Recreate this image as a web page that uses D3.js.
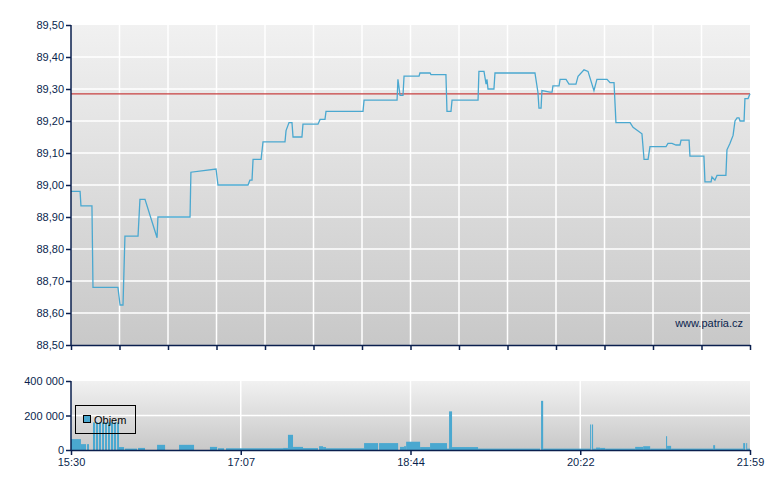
<!DOCTYPE html>
<html>
<head>
<meta charset="utf-8">
<script src="https://cdn.jsdelivr.net/npm/d3@7"></script>
<style>
  body { margin: 0; background: #fff; }
  text { font-family: Arial, "Liberation Sans", sans-serif; }
</style>
</head>
<body>
<div id="chart"></div>
<script>
// minutes after 15:30
var priceTimes = [0, 5.2, 5.7, 12.0, 12.6, 26.9, 28.1, 29.8, 30.9, 38.4, 39.5, 42.4, 49.3, 49.8, 68.2, 68.7, 83.1, 84.2,
  101.4, 102.5, 103.7, 104.3, 108.9, 110.0, 122.6, 123.2, 124.9, 126.6, 127.2, 132.3, 132.9, 141.5, 142.7, 145.5, 146.1,
  167.3, 167.9, 186.8, 187.3, 188.5, 190.2, 190.8, 199.4, 199.9, 205.7, 206.2, 214.8, 215.4, 217.7, 218.3, 233.2, 233.7,
  236.6, 237.8, 238.3, 238.9, 242.3, 242.9, 265.8, 267.5, 268.1, 269.3, 269.8, 274.4, 275.6, 276.1, 279.6, 280.2, 283.6,
  285.3, 289.3, 290.5, 293.9, 296.2, 299.6, 301.3, 307.1, 308.8, 311.1, 312.2, 320.3, 322.0, 327.1, 328.3, 330.6, 331.7,
  340.9, 342.0, 344.3, 346.6, 348.9, 349.5, 354.1, 354.6, 362.6, 363.2, 366.7, 367.2, 368.9, 370.1, 375.2, 375.8, 377.5,
  379.3, 380.4, 381.6, 382.7, 383.3, 385.6, 386.1, 387.9, 389];
var prices = [88.98, 88.98, 88.935, 88.935, 88.68, 88.68, 88.625, 88.625, 88.84, 88.84, 88.955, 88.955, 88.835, 88.90, 88.90, 89.04, 89.05, 89.00,
  89.00, 89.015, 89.015, 89.08, 89.08, 89.135, 89.135, 89.17, 89.195, 89.195, 89.15, 89.15, 89.19, 89.19, 89.205, 89.205, 89.23,
  89.23, 89.265, 89.265, 89.33, 89.28, 89.28, 89.34, 89.34, 89.35, 89.35, 89.345, 89.345, 89.23, 89.23, 89.265, 89.265, 89.355,
  89.355, 89.315, 89.33, 89.30, 89.30, 89.35, 89.35, 89.29, 89.24, 89.24, 89.295, 89.29, 89.29, 89.31, 89.31, 89.33, 89.33,
  89.315, 89.315, 89.34, 89.36, 89.355, 89.295, 89.33, 89.33, 89.32, 89.32, 89.195, 89.195, 89.18, 89.16, 89.08, 89.08, 89.12,
  89.12, 89.13, 89.13, 89.125, 89.125, 89.14, 89.14, 89.09, 89.09, 89.01, 89.01, 89.025, 89.015, 89.03, 89.03, 89.11,
  89.13, 89.155, 89.20, 89.21, 89.21, 89.20, 89.20, 89.27, 89.27, 89.285];
var prevClose = 89.285;

var volStart = [0, 5.7, 9.2, 12.6, 14.3, 16.0, 17.8, 19.5, 21.2, 22.9, 24.6, 26.4, 27.5, 30.9, 38.4, 49.3, 61.9, 79.6, 84.2, 88.8,
  121.5, 124.3, 127.2, 132.9, 142.1, 144.4, 146.1, 167.9, 176.5, 188.5, 190.8, 192.0, 200.0, 205.7, 215.4, 216.6, 218.3, 233.2,
  269.3, 270.5, 297.4, 298.5, 299.1, 300.8, 303.1, 306.0, 323.2, 327.8, 331.8, 340.9, 341.5, 343.8, 367.9, 369.0, 385.1, 386.8, 387.3];
var volEnd = [5.7, 8.6, 10.3, 13.8, 15.5, 17.2, 18.9, 20.6, 22.3, 24.1, 25.8, 27.5, 30.4, 37.8, 42.4, 53.9, 70.5, 83.7, 87.7, 121.5,
  124.3, 127.2, 132.9, 141.5, 144.4, 146.1, 167.9, 175.9, 187.4, 190.8, 192.0, 200.0, 205.7, 215.4, 216.6, 218.3, 233.2, 268.7,
  270.5, 297.4, 298.0, 299.1, 300.8, 303.1, 306.0, 323.2, 327.8, 331.8, 340.9, 341.5, 343.8, 367.9, 369.0, 385.1, 386.2, 387.3, 389];
var volumes = [63000, 34000, 34000, 160000, 160000, 160000, 160000, 160000, 160000, 160000, 160000, 160000, 17000, 8000, 12000, 30000, 30000, 18000, 10000, 10000,
  12000, 88000, 18000, 11000, 22000, 17000, 10000, 40000, 40000, 18000, 22000, 48000, 17000, 40000, 8000, 224000, 17000, 8000,
  285000, 8000, 148000, 148000, 8000, 14000, 12000, 8000, 18000, 22000, 8000, 80000, 24000, 8000, 28000, 8000, 40000, 40000, 8000];

var priceTicks = [88.5, 88.6, 88.7, 88.8, 88.9, 89.0, 89.1, 89.2, 89.3, 89.4, 89.5];
var volTicks = [0, 200000, 400000];
var timeLabels = ["15:30", "17:07", "18:44", "20:22", "21:59"];

var W = 780, H = 490, left = 71, right = 750;
var navy = "#0a1f4e", lineCol = "#4aa8d0";
var fmtComma = function (d) { return d3.format(".2f")(d).replace(".", ","); };
var fmtSpace = function (d) { return d3.format(",")(d).replace(/,/g, " "); };

var svg = d3.select("#chart").append("svg").attr("width", W).attr("height", H);
var defs = svg.append("defs");
var grad = defs.append("linearGradient").attr("id", "bg").attr("x1", 0).attr("y1", 0).attr("x2", 0).attr("y2", 1);
grad.append("stop").attr("offset", "0%").attr("stop-color", "#f1f1f1");
grad.append("stop").attr("offset", "100%").attr("stop-color", "#c8c8c8");

var x = d3.scaleLinear().domain([0, 389]).range([left, right]);
var y = d3.scaleLinear().domain([88.5, 89.5]).range([345, 25]);
var yv = d3.scaleLinear().domain([0, 400000]).range([450, 381]);

// main panel
svg.append("rect").attr("x", left).attr("y", 25).attr("width", right - left).attr("height", 320).attr("fill", "url(#bg)");
var mainXTicks = d3.range(15).map(function (i) { return i * 389 / 14; });
svg.append("g").selectAll("line").data(mainXTicks.slice(1, -1)).join("line")
  .attr("x1", function (d) { return x(d); }).attr("x2", function (d) { return x(d); })
  .attr("y1", 25).attr("y2", 345).attr("stroke", "#fff").attr("stroke-width", 1.5);
svg.append("g").selectAll("line").data(priceTicks.slice(1, -1)).join("line")
  .attr("x1", left).attr("x2", right).attr("y1", function (d) { return y(d); }).attr("y2", function (d) { return y(d); })
  .attr("stroke", "#fff").attr("stroke-width", 1.5);

svg.append("line").attr("x1", left).attr("x2", right).attr("y1", y(prevClose)).attr("y2", y(prevClose))
  .attr("stroke", "#c84040").attr("stroke-width", 1.2);

svg.append("path").datum(d3.zip(priceTimes, prices))
  .attr("d", d3.line().x(function (d) { return x(d[0]); }).y(function (d) { return y(d[1]); }))
  .attr("fill", "none").attr("stroke", lineCol).attr("stroke-width", 1.3);

svg.append("text").attr("x", 743).attr("y", 327).attr("text-anchor", "end").attr("font-size", 11)
  .attr("fill", navy).text("www.patria.cz");

var ya = svg.append("g").attr("transform", "translate(" + left + ",0)")
  .call(d3.axisLeft(y).tickValues(priceTicks).tickFormat(fmtComma).tickSize(5).tickPadding(2));
var xa = svg.append("g").attr("transform", "translate(0,345)")
  .call(d3.axisBottom(x).tickValues(mainXTicks).tickFormat("").tickSize(5).tickSizeOuter(0));

// volume panel
svg.append("rect").attr("x", left).attr("y", 381).attr("width", right - left).attr("height", 69).attr("fill", "url(#bg)");
var volXTicks = d3.range(5).map(function (i) { return i * 389 / 4; });
svg.append("g").selectAll("line").data(volXTicks.slice(1, -1)).join("line")
  .attr("x1", function (d) { return x(d); }).attr("x2", function (d) { return x(d); })
  .attr("y1", 381).attr("y2", 450).attr("stroke", "#fff").attr("stroke-width", 1.5);
svg.append("line").attr("x1", left).attr("x2", right).attr("y1", yv(200000)).attr("y2", yv(200000))
  .attr("stroke", "#fff").attr("stroke-width", 1.5);

svg.append("g").selectAll("rect").data(d3.range(volumes.length)).join("rect")
  .attr("x", function (i) { return x(volStart[i]); })
  .attr("width", function (i) { return Math.max(1, x(volEnd[i]) - x(volStart[i])); })
  .attr("y", function (i) { return yv(volumes[i]); })
  .attr("height", function (i) { return yv(0) - yv(volumes[i]); })
  .attr("fill", lineCol);

var va = svg.append("g").attr("transform", "translate(" + left + ",0)")
  .call(d3.axisLeft(yv).tickValues(volTicks).tickFormat(fmtSpace).tickSize(5).tickPadding(2));
var xa2 = svg.append("g").attr("transform", "translate(0,450)")
  .call(d3.axisBottom(x).tickValues(volXTicks).tickFormat(function (d, i) { return timeLabels[i]; }).tickSize(5).tickSizeOuter(0));

[ya, xa, va, xa2].forEach(function (g) {
  g.selectAll(".domain").attr("stroke", navy).attr("stroke-width", 1.5);
  g.selectAll(".tick line").attr("stroke", navy).attr("stroke-width", 1.5);
  g.selectAll("text").attr("fill", navy).attr("font-size", 11).attr("font-family", "Arial, 'Liberation Sans', sans-serif");
});
ya.select(".domain").attr("d", "M0,25V345");
va.select(".domain").attr("d", "M0,381V450");

// legend
var lg = svg.append("g");
lg.append("rect").attr("x", 75.5).attr("y", 405.5).attr("width", 60).attr("height", 28)
  .attr("fill", "none").attr("stroke", "#000");
lg.append("rect").attr("x", 83.5).attr("y", 415.5).attr("width", 7).attr("height", 7)
  .attr("fill", lineCol).attr("stroke", "#000");
lg.append("text").attr("x", 94).attr("y", 424).attr("font-size", 11).attr("fill", "#000").text("Objem");
</script>
</body>
</html>
